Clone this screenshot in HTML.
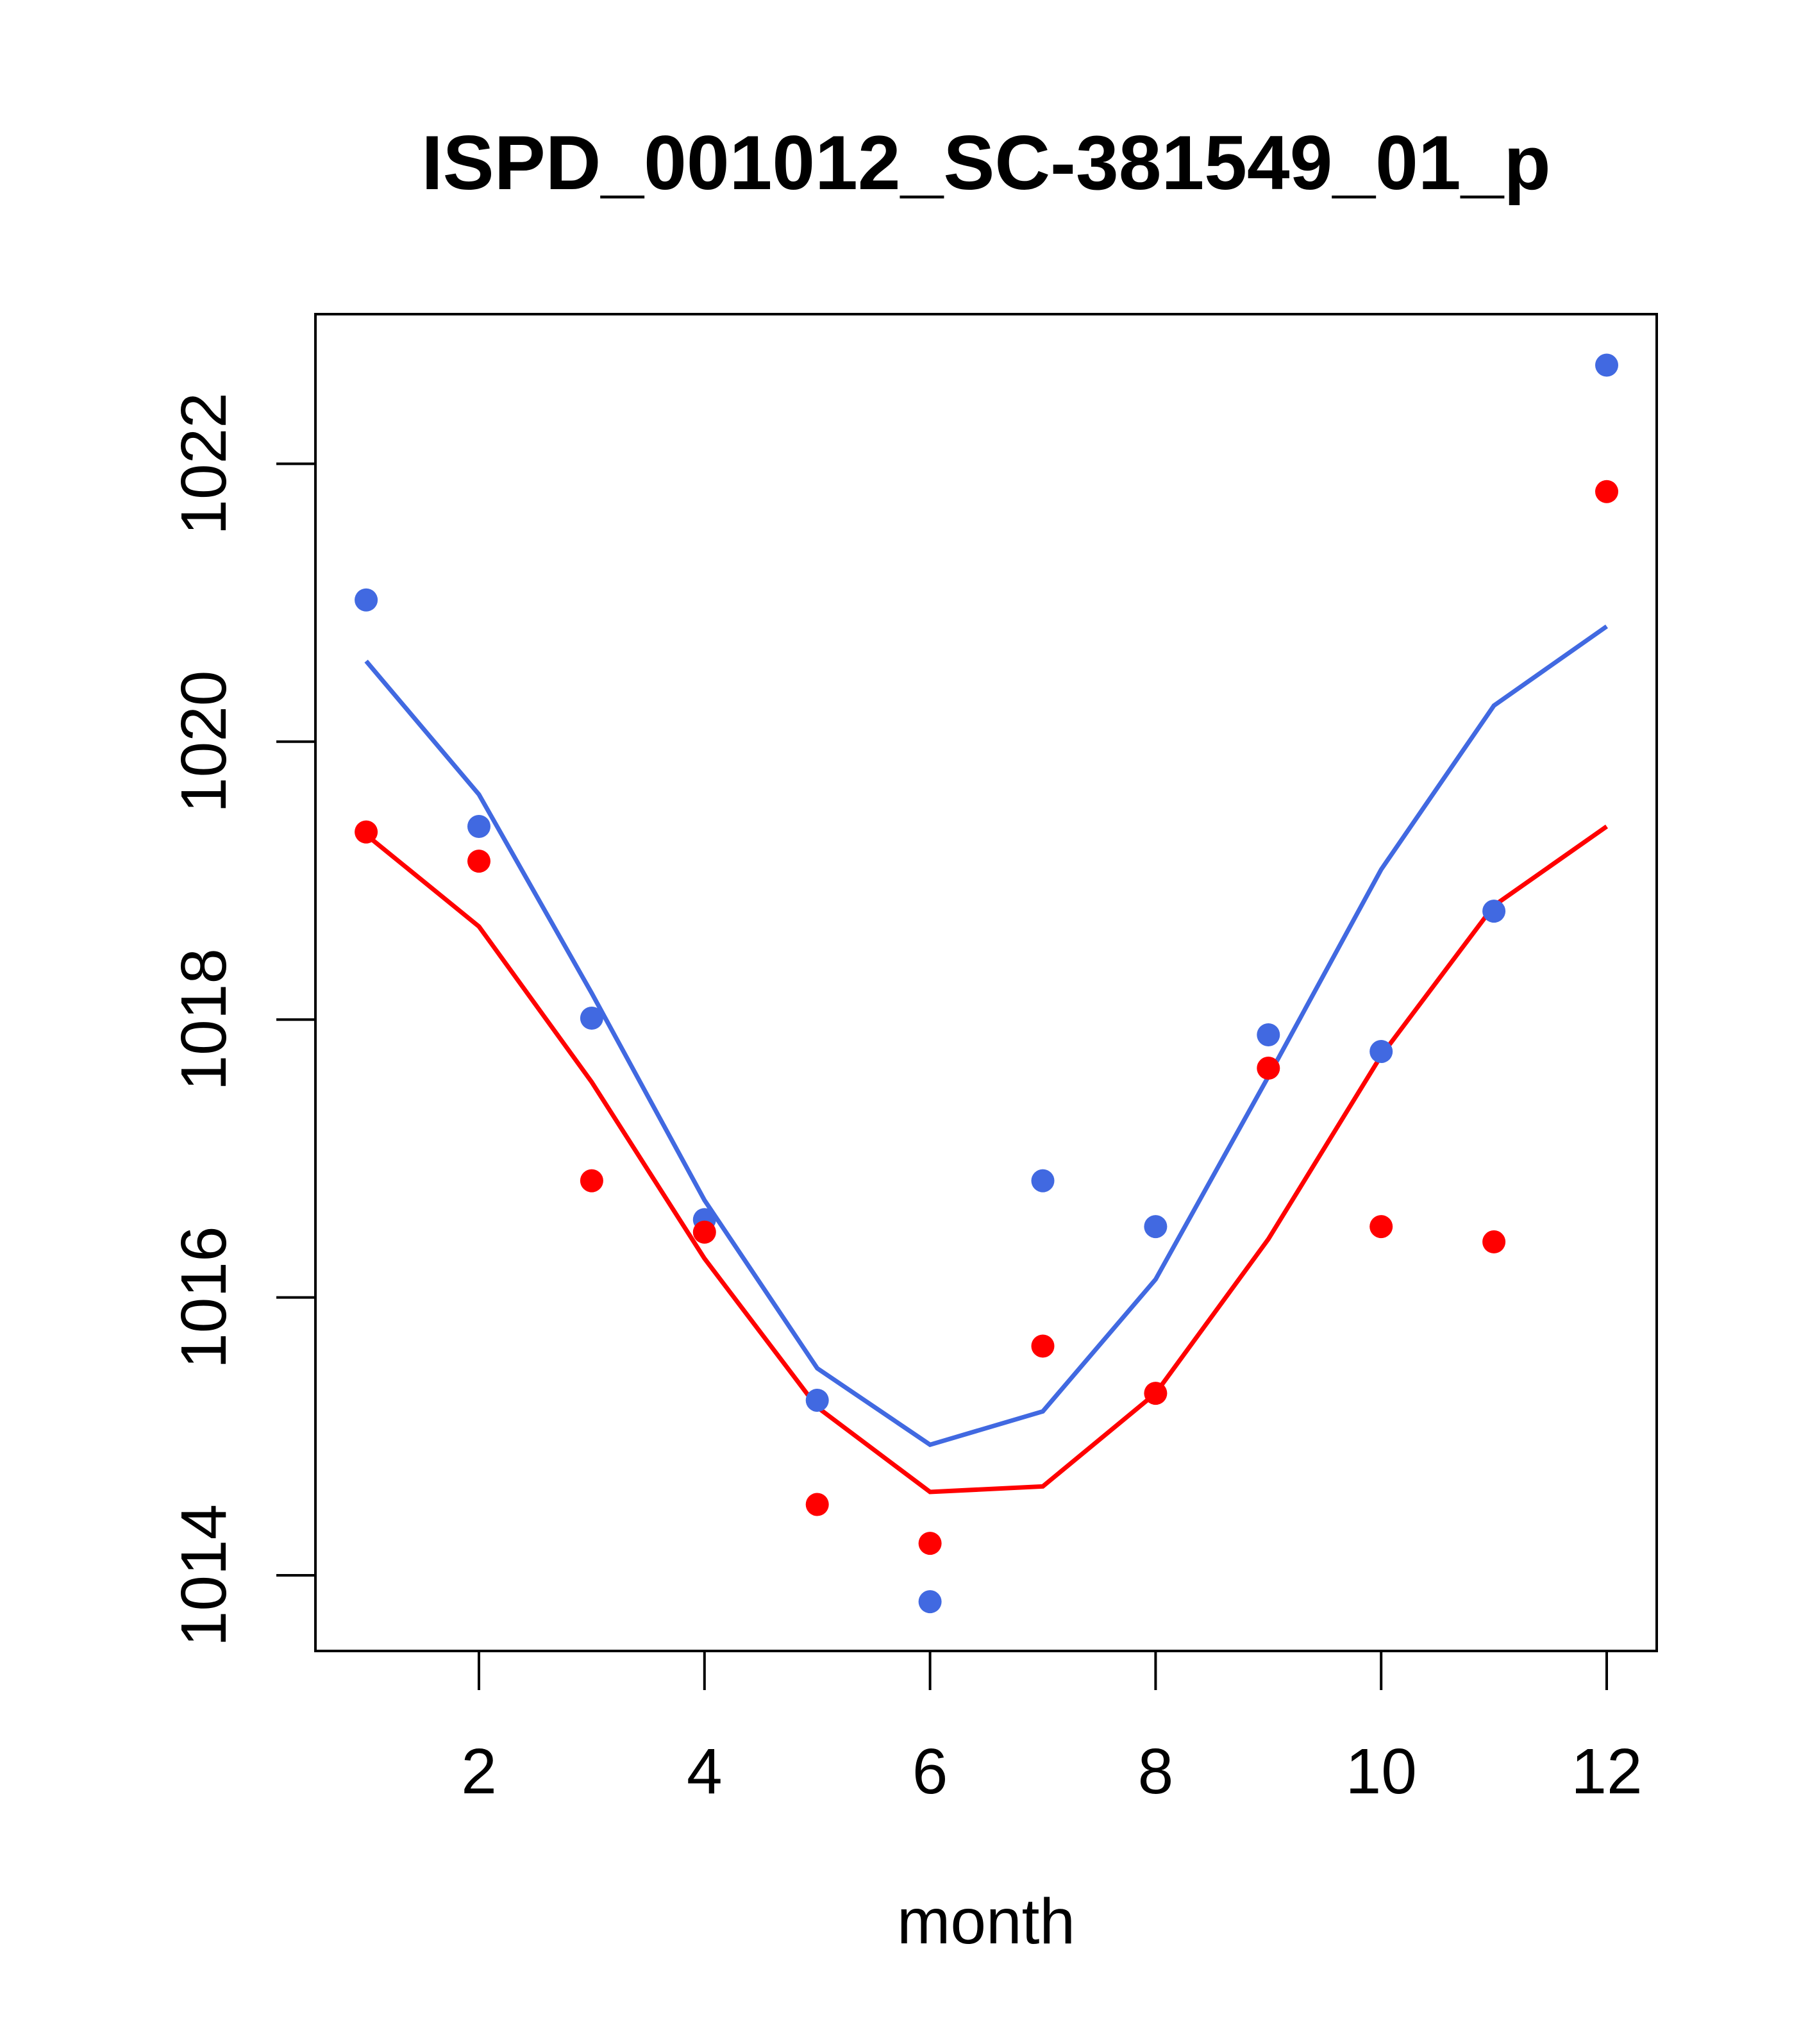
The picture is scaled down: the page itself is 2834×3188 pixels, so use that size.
<!DOCTYPE html>
<html><head><meta charset="utf-8"><style>html,body{margin:0;padding:0;background:#fff}svg{display:block}</style></head>
<body>
<svg id="chart" width="2834" height="3188" xmlns="http://www.w3.org/2000/svg" font-family="Liberation Sans, sans-serif">
<rect width="2834" height="3188" fill="#fff"/>
<text x="1538" y="295" text-anchor="middle" font-size="120" font-weight="bold">ISPD_001012_SC-381549_01_p</text>
<rect x="492" y="490" width="2092" height="2085" fill="none" stroke="#000" stroke-width="4"/>
<text x="1538" y="3031" text-anchor="middle" font-size="100">month</text>
<g id="axes"></g><g id="series"></g>
</svg>
<script>
const months=[1,2,3,4,5,6,7,8,9,10,11,12];
const bluePts=[1021.02,1019.39,1018.01,1016.56,1015.26,1013.81,1016.84,1016.51,1017.89,1017.77,1018.78,1022.71];
const redPts=[1019.35,1019.14,1016.84,1016.47,1014.51,1014.23,1015.65,1015.31,1017.65,1016.51,1016.40,1021.80];
const blueLine=[1020.58,1019.62,1018.19,1016.70,1015.49,1014.94,1015.18,1016.13,1017.59,1019.08,1020.26,1020.83];
const redLine=[1019.33,1018.67,1017.55,1016.28,1015.21,1014.60,1014.64,1015.31,1016.42,1017.74,1018.82,1019.39];
const xTicks=[2,4,6,8,10,12];
const yTicks=[1014,1016,1018,1020,1022];
const NS="http://www.w3.org/2000/svg";
function X(m){return 747+(m-2)*175.9;}
function Y(v){return 2457-(v-1014)*216.7;}
const axes=document.getElementById('axes'),ser=document.getElementById('series');
function mk(tag,attrs,parent){const e=document.createElementNS(NS,tag);for(const k in attrs)e.setAttribute(k,attrs[k]);parent.appendChild(e);return e;}
xTicks.forEach(t=>{
  const l=mk('line',{x1:X(t),x2:X(t),y1:2575,y2:2636,stroke:'#000','stroke-width':4},axes);
  
  
  const tx=mk('text',{x:X(t),y:2797,'text-anchor':'middle','font-size':100},axes);tx.textContent=t;
  
  
});
yTicks.forEach(t=>{
  const l=mk('line',{x1:431,x2:492,y1:Y(t),y2:Y(t),stroke:'#000','stroke-width':4},axes);
  
  
  const tx=mk('text',{x:0,y:0,'text-anchor':'middle','font-size':100,transform:`translate(352,${Y(t)}) rotate(-90)`},axes);tx.textContent=t;
  
  
});
function line(vals,color,name){
  const p=mk('polyline',{points:vals.map((v,i)=>X(months[i])+','+Y(v)).join(' '),fill:'none',stroke:color,'stroke-width':7},ser);
  
  
}
function pts(vals,color,name){
  vals.forEach((v,i)=>{const c=mk('circle',{cx:X(months[i]),cy:Y(v),r:18,fill:color},ser);
  
  });
}
line(blueLine,'#4169E1','blue-line');
line(redLine,'#FF0000','red-line');
pts(bluePts,'#4169E1','blue-point');
pts(redPts,'#FF0000','red-point');
</script>
</body></html>
